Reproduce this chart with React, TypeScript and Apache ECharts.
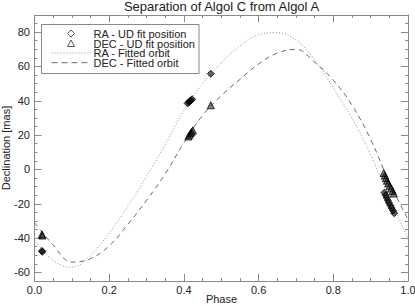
import React, { useEffect, useRef } from "react";
import * as echarts from "echarts";

const phaseGrid = [0, 0.05, 0.1, 0.15, 0.2, 0.25, 0.3, 0.35, 0.4, 0.45, 0.5, 0.55, 0.6, 0.65, 0.7, 0.75, 0.8, 0.85, 0.9, 0.95, 1.0];
const raFit = [-41, -53, -57, -50, -37, -21.5, -4, 14.5, 34.5, 50, 62, 72, 78.5, 79.7, 75.5, 64, 47.5, 30, 8.5, -16.5, -40];
const decFit = [-31, -44, -54, -52, -44.5, -32, -18, -2.5, 15.5, 31.5, 43, 52.5, 61.5, 67.8, 70, 62.5, 52, 37.5, 17.5, -7.5, -29];

const raPhase = [0.02, 0.021, 0.41, 0.413, 0.416, 0.419, 0.422, 0.472, 0.937, 0.94, 0.943, 0.946, 0.949, 0.953, 0.956, 0.96, 0.963];
const raValue = [-47.5, -48, 38.5, 39.2, 39.8, 40.3, 40.9, 55.8, -13.5, -15, -16.5, -18, -19.5, -21, -22.5, -24, -25.5];
const decPhase = [0.02, 0.021, 0.412, 0.415, 0.418, 0.421, 0.424, 0.472, 0.935, 0.938, 0.941, 0.944, 0.947, 0.951, 0.955, 0.959, 0.962];
const decValue = [-37.8, -38.5, 19.2, 20.2, 21.2, 22, 22.8, 37.4, -2, -3.5, -5, -6.5, -8, -9.5, -11, -12.5, -14];

const yMajor = [-60, -40, -20, 0, 20, 40, 60, 80];
const yMinor = [-65, -55, -50, -45, -35, -30, -25, -15, -10, -5, 5, 10, 15, 25, 30, 35, 45, 50, 55, 65, 70, 75, 85, 90];

const legendLabels = ["RA - UD fit position", "DEC - UD fit position", "RA - Fitted orbit", "DEC - Fitted orbit"];
const titleText = "Separation of Algol C from Algol A";
const xName = "Phase";
const yName = "Declination [mas]";

const FONT = "Liberation Sans, Arial, Helvetica, sans-serif";
const AXIS = "#8a8a8a";

export default function App() {
  const ref = useRef<HTMLDivElement>(null);
  useEffect(() => {
    if (!ref.current) return;
    const chart = echarts.init(ref.current, null, { renderer: "svg" });
    const zip = (a: number[], b: number[]) => a.map((v, i) => [v, b[i]]);
    const yCommon = {
      type: "value",
      min: -65,
      max: 90,
      splitLine: { show: false },
    };
    const rows = [33.5, 43.5, 53, 62.7];
    const option: any = {
      animation: false,
      backgroundColor: "#fff",
      textStyle: { fontFamily: FONT },
      grid: { left: 34.5, right: 7, top: 15, bottom: 25, containLabel: false, outerBoundsMode: "none" },
      xAxis: [
        {
          type: "value",
          min: 0,
          max: 1,
          interval: 0.2,
          position: "bottom",
          axisLine: { onZero: false, lineStyle: { color: AXIS } },
          axisTick: { inside: true, length: 7, lineStyle: { color: AXIS } },
          minorTick: { show: true, splitNumber: 4, length: 3, lineStyle: { color: AXIS } },
          axisLabel: { fontSize: 11, color: "#222", margin: 3, fontFamily: FONT, formatter: (v: number) => v.toFixed(1) },
          splitLine: { show: false },
        },
        {
          type: "value",
          min: 0,
          max: 1,
          interval: 0.2,
          position: "top",
          axisLine: { onZero: false, lineStyle: { color: AXIS } },
          axisTick: { inside: true, length: 7, lineStyle: { color: AXIS } },
          minorTick: { show: true, splitNumber: 4, length: 3, lineStyle: { color: AXIS } },
          axisLabel: { show: false },
          splitLine: { show: false },
        },
      ],
      yAxis: [
        {
          ...yCommon,
          position: "left",
          axisLine: { show: true, onZero: false, lineStyle: { color: AXIS } },
          axisTick: { show: true, inside: true, length: 7, customValues: yMajor, lineStyle: { color: AXIS } },
          axisLabel: { fontSize: 11, color: "#222", margin: 4.5, fontFamily: FONT, customValues: yMajor },
        },
        {
          ...yCommon,
          position: "right",
          axisLine: { show: true, onZero: false, lineStyle: { color: AXIS } },
          axisTick: { show: true, inside: true, length: 7, customValues: yMajor, lineStyle: { color: AXIS } },
          axisLabel: { show: false },
        },
        {
          ...yCommon,
          position: "left",
          axisLine: { show: false, onZero: false },
          axisTick: { show: true, inside: true, length: 3, customValues: yMinor, lineStyle: { color: AXIS } },
          axisLabel: { show: false },
        },
        {
          ...yCommon,
          position: "right",
          axisLine: { show: false, onZero: false },
          axisTick: { show: true, inside: true, length: 3, customValues: yMinor, lineStyle: { color: AXIS } },
          axisLabel: { show: false },
        },
      ],
      series: [
        {
          name: legendLabels[2],
          type: "line",
          data: zip(phaseGrid, raFit),
          smooth: 0.4,
          showSymbol: false,
          lineStyle: { color: "#8f8f8f", width: 1, type: [1, 2] },
          z: 2,
        },
        {
          name: legendLabels[3],
          type: "line",
          data: zip(phaseGrid, decFit),
          smooth: 0.4,
          showSymbol: false,
          lineStyle: { color: "#6a6a6a", width: 1, type: [5, 4] },
          z: 2,
        },
        {
          name: legendLabels[0],
          type: "scatter",
          symbol: "diamond",
          symbolSize: 7,
          data: zip(raPhase, raValue),
          itemStyle: { color: "rgba(0,0,0,0.75)", borderColor: "#000", borderWidth: 1 },
          z: 3,
        },
        {
          name: legendLabels[1],
          type: "scatter",
          symbol: "triangle",
          symbolSize: 7,
          data: zip(decPhase, decValue),
          itemStyle: { color: "rgba(0,0,0,0.6)", borderColor: "#000", borderWidth: 1 },
          z: 3,
        },
      ],
      graphic: [
        {
          type: "text",
          x: 221.5,
          y: 6,
          style: { text: titleText, fontSize: 13, lineHeight: 11, fontFamily: FONT, fill: "#222", align: "center", verticalAlign: "middle" },
        },
        {
          type: "text",
          x: 221.5,
          y: 298.5,
          style: { text: xName, fontSize: 11, lineHeight: 10, fontFamily: FONT, fill: "#222", align: "center", verticalAlign: "middle" },
        },
        {
          type: "text",
          x: 6,
          y: 148,
          rotation: Math.PI / 2,
          style: { text: yName, fontSize: 11, lineHeight: 10, fontFamily: FONT, fill: "#222", align: "center", verticalAlign: "middle" },
        },
        {
          type: "rect",
          shape: { x: 41.5, y: 24.5, width: 157.5, height: 49 },
          style: { fill: "#fff", stroke: "#8a8a8a", lineWidth: 1 },
          z: 10,
        },
        {
          type: "polygon",
          shape: { points: [[71, rows[0] - 3.5], [74.5, rows[0]], [71, rows[0] + 3.5], [67.5, rows[0]]] },
          style: { fill: "none", stroke: "#555", lineWidth: 1 },
          z: 11,
        },
        {
          type: "polygon",
          shape: { points: [[71, rows[1] - 3.5], [74.5, rows[1] + 3], [67.5, rows[1] + 3]] },
          style: { fill: "none", stroke: "#555", lineWidth: 1 },
          z: 11,
        },
        {
          type: "line",
          shape: { x1: 51.5, y1: rows[2], x2: 91.5, y2: rows[2] },
          style: { stroke: "#8f8f8f", lineWidth: 1, lineDash: [1, 2] },
          z: 11,
        },
        {
          type: "line",
          shape: { x1: 51.5, y1: rows[3], x2: 91.5, y2: rows[3] },
          style: { stroke: "#6a6a6a", lineWidth: 1, lineDash: [6, 4] },
          z: 11,
        },
        ...legendLabels.map((t, i) => ({
          type: "text",
          x: 93.5,
          y: rows[i],
          style: { text: t, fontSize: 11, lineHeight: 9, fontFamily: FONT, fill: "#222", align: "left", verticalAlign: "middle" },
          z: 11,
        })),
      ],
    };
    chart.setOption(option);
    return () => chart.dispose();
  }, []);
  return (
    <div
      ref={ref}
      style={{ position: "absolute", left: 0, top: 0, width: 415, height: 306, background: "#fff" }}
    />
  );
}
